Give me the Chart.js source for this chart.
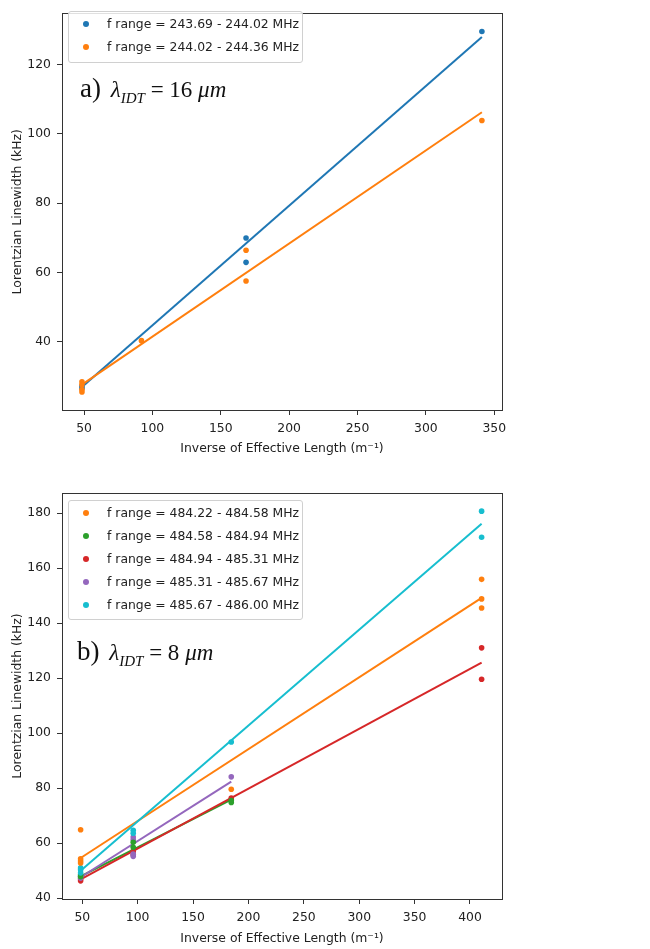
<!DOCTYPE html>
<html>
<head>
<meta charset="utf-8">
<script src="https://cdn.jsdelivr.net/npm/chart.js@4"></script>
<style>
  body { margin: 0; background: #fff; width: 650px; height: 949px; position: relative; overflow: hidden; }
  .panel { position: absolute; left: 0; }
  .legend { position: absolute; border: 1px solid #d0d0d0; border-radius: 3px; background: rgba(255,255,255,0.85);
            font-family: "DejaVu Sans", sans-serif; font-size: 12.4px; color: #222; box-sizing: border-box; }
  .legend .row { position: absolute; left: 0; height: 23px; line-height: 23px; white-space: nowrap; }
  .legend .dot { position: absolute; left: 14px; top: 9px; width: 6px; height: 6px; border-radius: 50%; }
  .legend .txt { position: absolute; left: 38px; }
  .note { position: absolute; font-family: "Liberation Serif", "DejaVu Serif", serif; font-size: 23px; line-height: 28px; color: #111; white-space: nowrap; }
  .note sub { font-size: 15px; vertical-align: -6px; }
  .note .lab { font-size: 27px; margin-right: 4px; }
</style>
</head>
<body>
<div class="panel" style="top:0"><canvas id="chartA" width="650" height="465"></canvas></div>
<div class="panel" style="top:470px"><canvas id="chartB" width="650" height="479"></canvas></div>
<div class="legend" id="legendA" style="left:68px; top:11px; width:235px; height:52px"></div>
<div class="legend" id="legendB" style="left:68px; top:500px; width:235px; height:120px"></div>
<div class="note" style="left:80px; top:74px"><span class="lab">a)</span> <i>λ</i><sub><i>IDT</i></sub> = 16 <i>μm</i></div>
<div class="note" style="left:77px; top:637px"><span class="lab">b)</span> <i>λ</i><sub><i>IDT</i></sub> = 8 <i>μm</i></div>
<script>
// colours (matplotlib tab10)
const C_BLUE = '#1f77b4', C_ORANGE = '#ff7f0e', C_GREEN = '#2ca02c',
      C_RED = '#d62728', C_PURPLE = '#9467bd', C_CYAN = '#17becf';

// ---- panel a) lambda_IDT = 16 um ----
const labelsA = ['f range = 243.69 - 244.02 MHz', 'f range = 244.02 - 244.36 MHz'];
const blueA_x   = [48.5, 48.5, 168.5, 168.5, 341];
const blueA_y   = [27.2, 26.6, 69.9, 62.9, 129.5];
const orangeA_x = [48.5, 48.5, 48.5, 48.5, 92, 168.5, 168.5, 341];
const orangeA_y = [28.4, 27.6, 26.2, 25.5, 40.3, 66.4, 57.5, 103.8];
const fitBlueA_x = [48.5, 341], fitBlueA_y = [26.9, 127.9];
const fitOrangeA_x = [48.5, 341], fitOrangeA_y = [27.6, 106.2];
const xTicksA = [50, 100, 150, 200, 250, 300, 350];
const yTicksA = [40, 60, 80, 100, 120];

// ---- panel b) lambda_IDT = 8 um ----
const labelsB = ['f range = 484.22 - 484.58 MHz', 'f range = 484.58 - 484.94 MHz',
                 'f range = 484.94 - 485.31 MHz', 'f range = 485.31 - 485.67 MHz',
                 'f range = 485.67 - 486.00 MHz'];
const orangeB_x = [48.5, 48.5, 48.5, 48.5, 184.5, 410.5, 410.5, 410.5];
const orangeB_y = [64.9, 54.3, 53.5, 52.8, 79.6, 155.9, 148.8, 145.5];
const greenB_x  = [48.5, 48.5, 96, 96, 184.5, 184.5];
const greenB_y  = [48.5, 47.8, 60.3, 58.5, 75.5, 74.8];
const redB_x    = [48.5, 48.5, 96, 96, 184.5, 184.5, 410.5, 410.5];
const redB_y    = [47.0, 46.3, 57.0, 55.8, 76.4, 75.9, 131.0, 119.6];
const purpleB_x = [48.5, 48.5, 96, 96, 96, 96, 184.5];
const purpleB_y = [48.0, 47.3, 62.2, 61.2, 56.0, 55.2, 84.1];
const cyanB_x   = [48.5, 48.5, 48.5, 96, 96, 184.5, 410.5, 410.5];
const cyanB_y   = [51.0, 50.3, 49.2, 64.7, 63.6, 96.8, 180.7, 171.2];
const fitOrangeB_x = [48.5, 410.5], fitOrangeB_y = [54.6, 149.2];
const fitGreenB_x  = [48.5, 184.5], fitGreenB_y  = [47.9, 75.8];
const fitRedB_x    = [48.5, 410.5], fitRedB_y    = [46.8, 125.6];
const fitPurpleB_x = [48.5, 184.5], fitPurpleB_y = [47.6, 82.4];
const fitCyanB_x   = [48.5, 410.5], fitCyanB_y   = [50.0, 176.1];
const xTicksB = [50, 100, 150, 200, 250, 300, 350, 400];
const yTicksB = [40, 60, 80, 100, 120, 140, 160, 180];

const xTitle = 'Inverse of Effective Length (m⁻¹)';
const yTitle = 'Lorentzian Linewidth (kHz)';

function pts(xs, ys) { return xs.map((x, i) => ({ x: x, y: ys[i] })); }

function dots(xs, ys, color) {
  return { data: pts(xs, ys), showLine: false, pointRadius: 2.8, pointHoverRadius: 2.8,
           pointBackgroundColor: color, pointBorderWidth: 0, borderColor: color };
}
function fit(xs, ys, color) {
  return { data: pts(xs, ys), showLine: true, pointRadius: 0, borderColor: color, borderWidth: 2, fill: false };
}

// full box around plot area, like matplotlib spines
const framePlugin = {
  id: 'frame',
  afterDraw(chart) {
    const a = chart.chartArea, c = chart.ctx;
    c.save();
    c.strokeStyle = '#333';
    c.lineWidth = 1;
    c.strokeRect(Math.round(a.left) + 0.5, Math.round(a.top) + 0.5,
                 Math.round(a.right - a.left), Math.round(a.bottom - a.top));
    c.restore();
  }
};

function makeChart(id, datasets, xr, yr, xTicks, yTicks, pad, xh, xTitlePad) {
  const font = { family: 'DejaVu Sans', size: 12.4 };
  return new Chart(document.getElementById(id), {
    type: 'scatter',
    data: { datasets: datasets },
    options: {
      responsive: false,
      animation: false,
      layout: { padding: { top: pad, right: 148, left: 0, bottom: 0 } },
      plugins: { legend: { display: false }, tooltip: { enabled: false } },
      scales: {
        x: {
          type: 'linear', min: xr[0], max: xr[1],
          afterBuildTicks: s => { s.ticks = xTicks.map(v => ({ value: v })); },
          afterFit: s => { s.height = xh; },
          grid: { drawOnChartArea: false, drawTicks: true, tickLength: 5, color: '#333' },
          border: { color: '#333' },
          ticks: { font: font, color: '#222', padding: 6, maxRotation: 0 },
          title: { display: true, text: xTitle, font: font, color: '#222', padding: { top: 0, bottom: xTitlePad } }
        },
        y: {
          type: 'linear', min: yr[0], max: yr[1],
          afterBuildTicks: s => { s.ticks = yTicks.map(v => ({ value: v })); },
          afterFit: s => { s.width = 62; },
          grid: { drawOnChartArea: false, drawTicks: true, tickLength: 5, color: '#333' },
          border: { color: '#333' },
          ticks: { font: font, color: '#222', padding: 6 },
          title: { display: true, text: yTitle, font: font, color: '#222', padding: { top: 10, bottom: 0 } }
        }
      }
    },
    plugins: [framePlugin]
  });
}

// earlier datasets are painted on top
makeChart('chartA', [
  dots(orangeA_x, orangeA_y, C_ORANGE),
  dots(blueA_x, blueA_y, C_BLUE),
  fit(fitOrangeA_x, fitOrangeA_y, C_ORANGE),
  fit(fitBlueA_x, fitBlueA_y, C_BLUE)
], [33.9, 355.7], [20.3, 134.7], xTicksA, yTicksA, 3, 55, 9);

makeChart('chartB', [
  dots(orangeB_x, orangeB_y, C_ORANGE),
  dots(cyanB_x, cyanB_y, C_CYAN),
  dots(greenB_x, greenB_y, C_GREEN),
  dots(purpleB_x, purpleB_y, C_PURPLE),
  dots(redB_x, redB_y, C_RED),
  fit(fitCyanB_x, fitCyanB_y, C_CYAN),
  fit(fitOrangeB_x, fitOrangeB_y, C_ORANGE),
  fit(fitRedB_x, fitRedB_y, C_RED),
  fit(fitPurpleB_x, fitPurpleB_y, C_PURPLE),
  fit(fitGreenB_x, fitGreenB_y, C_GREEN)
], [31.7, 428.9], [39.7, 187.3], xTicksB, yTicksB, 23, 50, 3);

function buildLegend(id, labels, colors) {
  const box = document.getElementById(id);
  labels.forEach((t, i) => {
    const row = document.createElement('div');
    row.className = 'row';
    row.style.top = (i * 23) + 'px';
    row.innerHTML = '<span class="dot" style="background:' + colors[i] + '"></span><span class="txt"></span>';
    row.querySelector('.txt').textContent = t;
    box.appendChild(row);
  });
}
buildLegend('legendA', labelsA, [C_BLUE, C_ORANGE]);
buildLegend('legendB', labelsB, [C_ORANGE, C_GREEN, C_RED, C_PURPLE, C_CYAN]);
</script>
</body>
</html>
